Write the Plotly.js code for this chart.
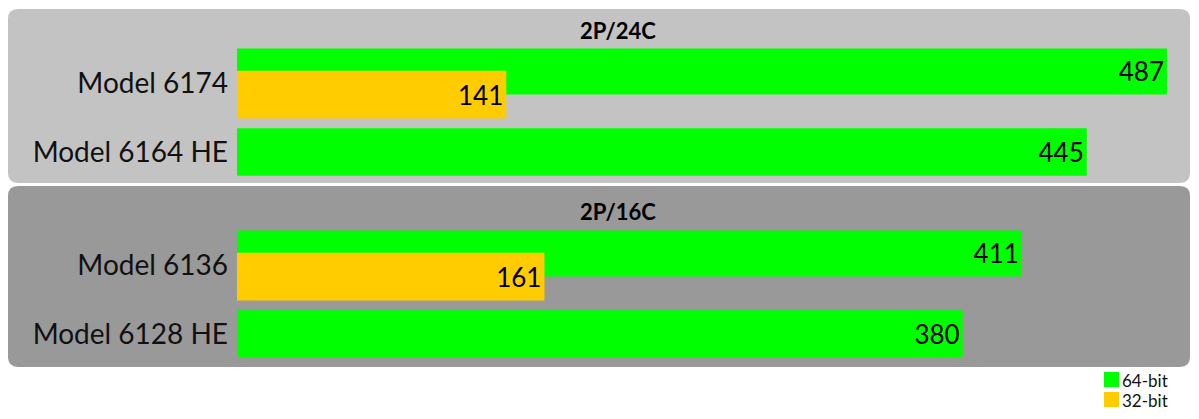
<!DOCTYPE html>
<html>
<head>
<meta charset="utf-8">
<script src="https://cdn.plot.ly/plotly-3.0.1.min.js"></script>
<style>body{margin:0;background:#fff}#chart{width:1199px;height:419px}</style>
</head>
<body>
<div id="chart"></div>
<script>
// panel 1: 2P/24C, panel 2: 2P/16C (bottom category first)
const models24 = ['Model 6164 HE', 'Model 6174'];
const bit64_24 = [445, 487];
const bit32_24 = [null, 141];
const models16 = ['Model 6128 HE', 'Model 6136'];
const bit64_16 = [380, 411];
const bit32_16 = [null, 161];
const seriesNames = ['64-bit', '32-bit'];

const W = 1199, H = 419;
const green = '#00ff00', orange = '#ffcc00';
const font = 'Lato, "DejaVu Sans", sans-serif';

function barTrace(name, y, x, color, offsets, xa, ya) {
    return {
        type: 'bar', orientation: 'h', name: name, y: y, x: x,
        xaxis: xa, yaxis: ya, showlegend: false,
        marker: {color: color, line: {width: 0}},
        width: 0.69, offset: offsets,
        text: x.map(v => v == null ? '' : String(v)),
        textposition: 'inside', insidetextanchor: 'end',
        textfont: {size: 26, color: '#000', family: font},
        constraintext: 'none', hoverinfo: 'x+y'
    };
}

// rounded rectangle in pixel coords -> paper path
function roundRect(x0, y0, x1, y1, r) {
    const px = x => (x / W).toFixed(5), py = y => (1 - y / H).toFixed(5);
    return 'M' + px(x0 + r) + ',' + py(y0) + ' L' + px(x1 - r) + ',' + py(y0) +
        ' Q' + px(x1) + ',' + py(y0) + ' ' + px(x1) + ',' + py(y0 + r) +
        ' L' + px(x1) + ',' + py(y1 - r) +
        ' Q' + px(x1) + ',' + py(y1) + ' ' + px(x1 - r) + ',' + py(y1) +
        ' L' + px(x0 + r) + ',' + py(y1) +
        ' Q' + px(x0) + ',' + py(y1) + ' ' + px(x0) + ',' + py(y1 - r) +
        ' L' + px(x0) + ',' + py(y0 + r) +
        ' Q' + px(x0) + ',' + py(y0) + ' ' + px(x0 + r) + ',' + py(y0) + ' Z';
}

const data = [
    barTrace(seriesNames[0], models24, bit64_24, green, [-0.345, -0.167], 'x', 'y'),
    barTrace(seriesNames[1], models24, bit32_24, orange, [0, -0.514], 'x', 'y'),
    barTrace(seriesNames[0], models16, bit64_16, green, [-0.345, -0.167], 'x2', 'y2'),
    barTrace(seriesNames[1], models16, bit32_16, orange, [0, -0.514], 'x2', 'y2')
];

const xax = {range: [0, 487], domain: [237 / W, 1167 / W], visible: false, fixedrange: true};
const yax = {
    type: 'category', range: [-0.5, 1.5], showgrid: false, zeroline: false,
    ticks: '', ticklabelstandoff: 8, tickfont: {size: 28, color: '#111', family: font}
};

// hand-drawn legend (small squares, tight rows)
const legendShapes = [green, orange].map((c, i) => ({
    type: 'rect', xref: 'paper', yref: 'paper',
    x0: 1104 / W, x1: 1119 / W, y0: 1 - (387 + i * 20) / H, y1: 1 - (372 + i * 20) / H,
    fillcolor: c, line: {width: 0}
}));
const legendText = seriesNames.map((n, i) => ({
    text: n, xref: 'paper', yref: 'paper', x: 1121 / W, y: 1 - (380 + i * 20) / H,
    xanchor: 'left', yanchor: 'middle', showarrow: false, borderpad: 0,
    font: {size: 17, color: '#111', family: font}
}));

const layout = {
    width: W, height: H,
    margin: {t: 0, b: 0, l: 0, r: 0},
    paper_bgcolor: '#fff', plot_bgcolor: 'rgba(0,0,0,0)',
    barmode: 'overlay', font: {family: font}, showlegend: false,
    xaxis: Object.assign({}, xax, {anchor: 'y'}),
    xaxis2: Object.assign({}, xax, {anchor: 'y2'}),
    yaxis: Object.assign({}, yax, {anchor: 'x', domain: [1 - 186.5 / H, 1 - 48.5 / H]}),
    yaxis2: Object.assign({}, yax, {anchor: 'x2', domain: [1 - 368.5 / H, 1 - 230.5 / H]}),
    shapes: [
        {type: 'path', xref: 'paper', yref: 'paper', layer: 'below', path: roundRect(8, 9, 1190, 183, 10), fillcolor: '#c3c3c3', line: {width: 0}},
        {type: 'path', xref: 'paper', yref: 'paper', layer: 'below', path: roundRect(8, 186, 1190, 367, 10), fillcolor: '#999999', line: {width: 0}}
    ].concat(legendShapes),
    annotations: [
        {text: '<b>2P/24C</b>', xref: 'paper', yref: 'paper', x: 618 / W, y: 1 - 31 / H, yanchor: 'middle', showarrow: false, font: {size: 22, color: '#000', family: font}},
        {text: '<b>2P/16C</b>', xref: 'paper', yref: 'paper', x: 618 / W, y: 1 - 212 / H, yanchor: 'middle', showarrow: false, font: {size: 22, color: '#000', family: font}}
    ].concat(legendText)
};

Plotly.newPlot('chart', data, layout, {staticPlot: true, displayModeBar: false});
</script>
</body>
</html>
